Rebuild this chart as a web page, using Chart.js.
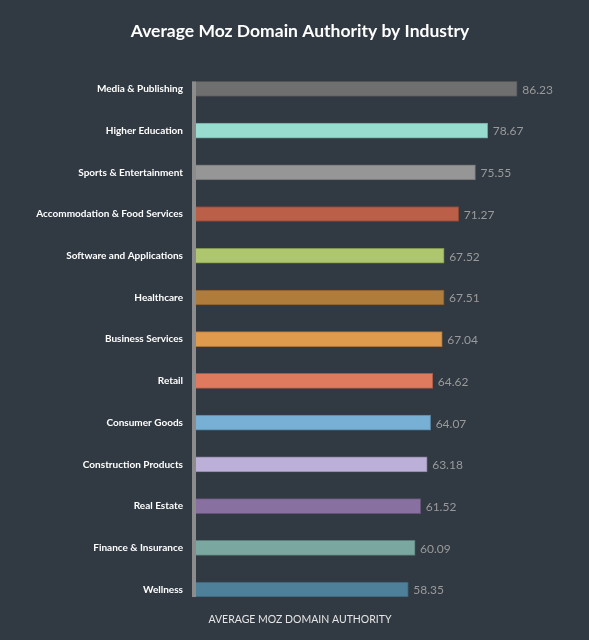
<!DOCTYPE html>
<html>
<head>
<meta charset="utf-8">
<script src="https://cdn.jsdelivr.net/npm/chart.js@4.4.0/dist/chart.umd.min.js"></script>
<style>
  html, body { margin: 0; padding: 0; background: #313942; }
  #wrap { width: 589px; height: 640px; }
</style>
</head>
<body>
<div id="wrap"><canvas id="chart"></canvas></div>
<script>
const industries = [
  'Media & Publishing', 'Higher Education', 'Sports & Entertainment',
  'Accommodation & Food Services', 'Software and Applications', 'Healthcare',
  'Business Services', 'Retail', 'Consumer Goods', 'Construction Products',
  'Real Estate', 'Finance & Insurance', 'Wellness'
]
const authority = [86.23, 78.67, 75.55, 71.27, 67.52, 67.51, 67.04, 64.62, 64.07, 63.18, 61.52, 60.09, 58.35]
const barColors = [
  '#6f6f6f', '#98dcd0', '#969696', '#bb5f48', '#aec66e', '#b07c3c', '#e09a4e',
  '#e07a5f', '#77b0d4', '#bcb0d8', '#8870a0', '#7aa8a0', '#4f809a'
]

function darker(hex) {
  let n = parseInt(hex.slice(1), 16)
  let r = Math.round(((n >> 16) & 255) * 0.75)
  let g = Math.round(((n >> 8) & 255) * 0.75)
  let b = Math.round((n & 255) * 0.75)
  return `rgb(${r},${g},${b})`
}

// value text at the end of each bar
const valueLabels = {
  id: 'valueLabels',
  afterDatasetsDraw(chart) {
    let ctx = chart.ctx
    let meta = chart.getDatasetMeta(0)
    ctx.save()
    ctx.font = '12px Lato'
    ctx.fillStyle = '#9a9a9a'
    ctx.textBaseline = 'middle'
    meta.data.forEach((bar, i) => {
      ctx.fillText(authority[i].toFixed(2), bar.x + 5, bar.y + 1)
    })
    ctx.restore()
  }
}

// grey axis line running from the first bar to the last
const axisLine = {
  id: 'axisLine',
  afterDatasetsDraw(chart) {
    let ctx = chart.ctx
    let meta = chart.getDatasetMeta(0)
    let first = meta.data[0]
    let last = meta.data[meta.data.length - 1]
    ctx.save()
    ctx.fillStyle = '#8c8c8c'
    ctx.fillRect(chart.chartArea.left - 4, first.y - first.height / 2,
      4, last.y + last.height / 2 - (first.y - first.height / 2))
    ctx.restore()
  }
}

let chart = new Chart(document.getElementById('chart').getContext('2d'), {
  type: 'bar',
  data: {
    labels: industries,
    datasets: [{
      data: authority,
      backgroundColor: barColors,
      borderColor: barColors.map(darker),
      borderWidth: 1,
      barThickness: 15
    }]
  },
  options: {
    indexAxis: 'y',
    responsive: true,
    maintainAspectRatio: false,
    animation: false,
    layout: { padding: { top: 0, right: 18, bottom: 14, left: 29 } },
    scales: {
      x: {
        display: false,
        min: 4,
        max: 100
      },
      y: {
        grid: { display: false, drawTicks: false },
        border: { display: false },
        afterFit(scale) { scale.width = 167 },
        ticks: {
          color: '#ffffff',
          padding: 13,
          font: { family: 'Lato', size: 10, weight: 'bold' }
        }
      }
    },
    plugins: {
      legend: { display: false },
      tooltip: { enabled: false },
      title: {
        display: true,
        text: 'Average Moz Domain Authority by Industry',
        color: '#ffffff',
        font: { family: 'Lato', size: 17.5, weight: 'bold' },
        padding: { top: 21, bottom: 26 }
      },
      subtitle: {
        display: true,
        position: 'bottom',
        text: 'AVERAGE MOZ DOMAIN AUTHORITY',
        color: '#e6e6e6',
        font: { family: 'Lato', size: 10.5 },
        padding: { top: 3, bottom: 0 }
      }
    }
  },
  plugins: [valueLabels, axisLine]
})
</script>
</body>
</html>
